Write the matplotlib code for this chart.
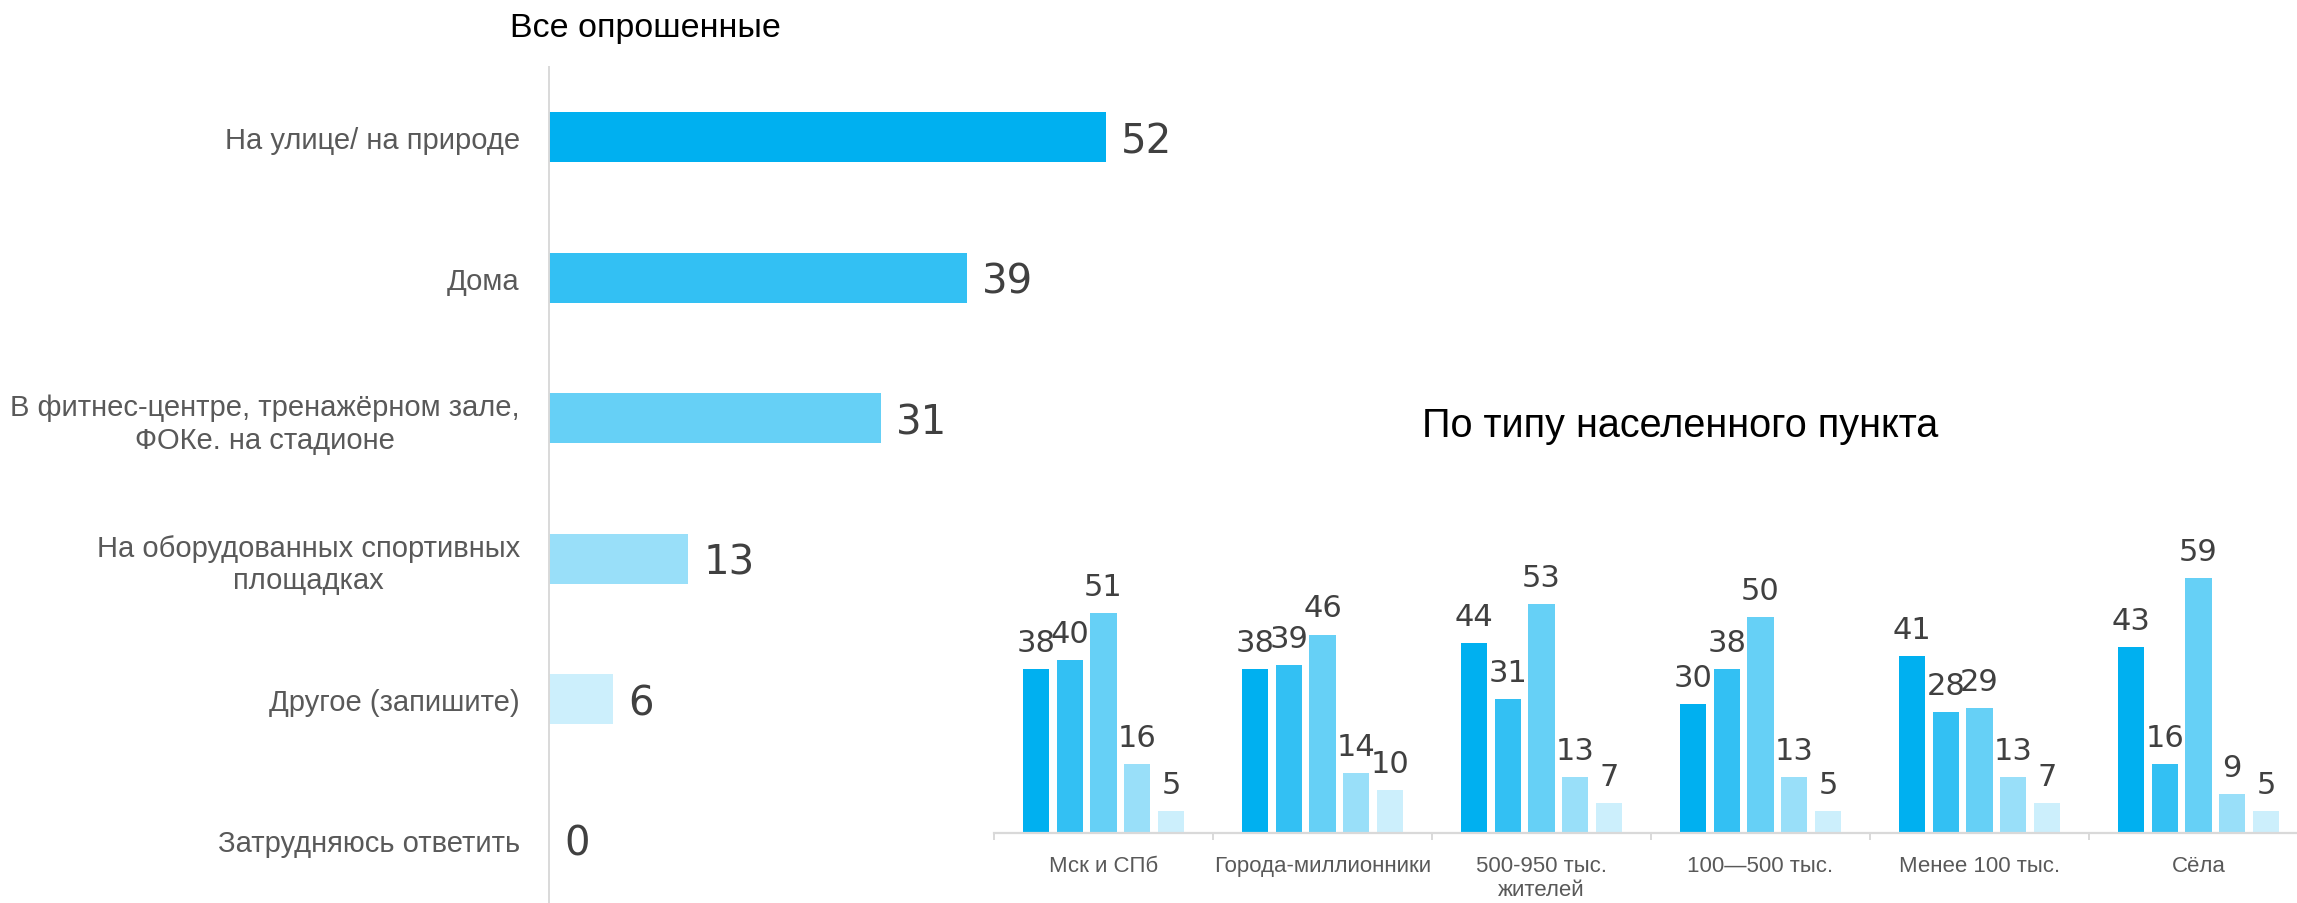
import matplotlib
matplotlib.use("Agg")
import matplotlib.pyplot as plt
import numpy as np

plt.rcParams['font.family'] = ['Liberation Sans', 'DejaVu Sans']

# left chart: all respondents
places = ['На улице/ на природе', 'Дома',
          'В фитнес-центре, тренажёрном зале,\nФОКе. на стадионе',
          'На оборудованных спортивных\nплощадках',
          'Другое (запишите)', 'Затрудняюсь ответить']
all_values = [52, 39, 31, 13, 6, 0]

# right chart: by settlement type
settlements = ['Мск и СПб', 'Города-миллионники', '500-950 тыс.\nжителей',
               '100—500 тыс.', 'Менее 100 тыс.', 'Сёла']
outdoor = [38, 38, 44, 30, 41, 43]
home = [40, 39, 31, 38, 28, 16]
fitness = [51, 46, 53, 50, 29, 59]
sport_grounds = [16, 14, 13, 13, 13, 9]
other = [5, 10, 7, 5, 7, 5]

colors = ['#00B0F0', '#33C0F3', '#66D0F6', '#99DFF9', '#CCEFFC', '#CCEFFC']
label_color = '#595959'
value_color = '#404040'
line_color = '#D9D9D9'
num_font = ['DejaVu Sans']

W, H = 2297, 904
fig = plt.figure(figsize=(W / 100, H / 100), dpi=100)

# ---- left chart
ax1 = fig.add_axes([549 / W, (H - 911) / H, 643 / W, 843 / H])
y = np.arange(len(places))
ax1.barh(y, all_values, height=0.356, color=colors[:len(places)])
ax1.set_ylim(len(places) - 0.5, -0.5)
ax1.set_xlim(0, 60)
ax1.set_yticks(y)
ax1.set_yticklabels(places, fontsize=21, color=label_color, multialignment='center')
ax1.tick_params(axis='y', length=0, pad=21)
ax1.set_xticks([])
for s in ['top', 'right', 'bottom']:
    ax1.spines[s].set_visible(False)
ax1.spines['left'].set_color(line_color)
ax1.spines['left'].set_linewidth(1.4)
for yi, v in zip(y, all_values):
    ax1.annotate(str(v), (v, yi), xytext=(10.8, -10.8), textcoords='offset points',
                 ha='left', va='baseline', fontsize=29, color=value_color,
                 family=num_font)

fig.text(645 / W, 1 - 37 / H, 'Все опрошенные', ha='center', va='baseline',
         fontsize=24.5, color='black')

# ---- right chart
ax2 = fig.add_axes([994 / W, (H - 834) / H, 1314 / W, 302 / H])
series = [outdoor, home, fitness, sport_grounds, other]
x = np.arange(len(settlements))
step = 0.154
for i, vals in enumerate(series):
    pos = x + (i - 2) * step
    ax2.bar(pos, vals, width=0.121, color=colors[i])
    for px, v in zip(pos, vals):
        ax2.annotate(str(v), (px, v), xytext=(0, 13), textcoords='offset points',
                     ha='center', va='baseline', fontsize=22, color=value_color,
                     family=num_font)
ax2.set_xlim(-0.5, len(settlements) - 0.5)
ax2.set_ylim(0, 70)
ax2.set_yticks([])
ax2.set_xticks(x)
ax2.set_xticklabels(settlements, fontsize=16, color=label_color)
ax2.set_xticks(np.arange(len(settlements) + 1) - 0.5, minor=True)
ax2.tick_params(axis='x', which='major', length=0, pad=16)
ax2.tick_params(axis='x', which='minor', length=5, color=line_color, width=1.4)
for s in ['top', 'right', 'left']:
    ax2.spines[s].set_visible(False)
ax2.spines['bottom'].set_color(line_color)
ax2.spines['bottom'].set_linewidth(1.6)

fig.text(1680 / W, 1 - 437 / H, 'По типу населенного пункта', ha='center',
         va='baseline', fontsize=28.5, color='black')

fig.savefig('out.png', dpi=100)
